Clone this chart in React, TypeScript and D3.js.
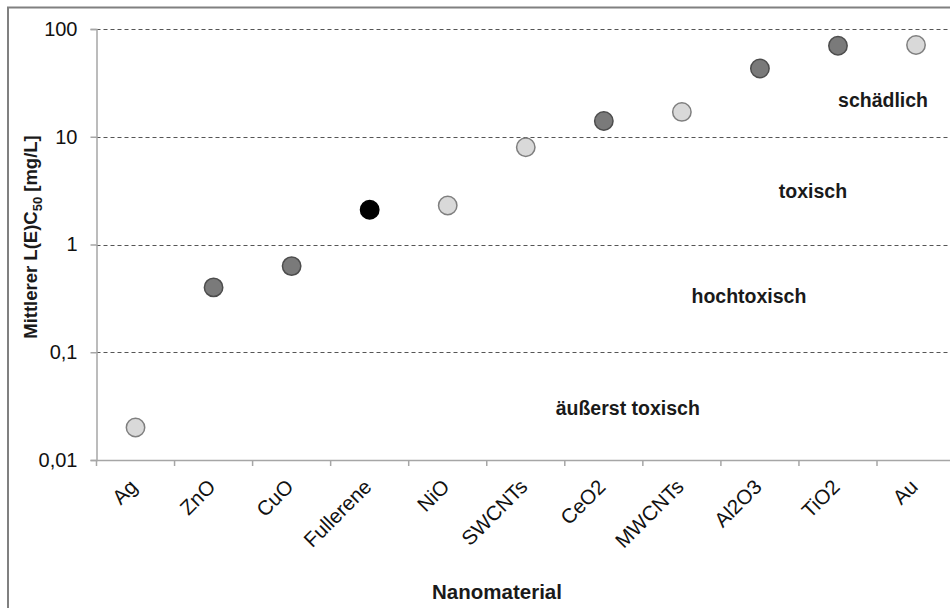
import React, { useEffect, useRef } from "react";
import * as d3 from "d3";

const categories = ["Ag", "ZnO", "CuO", "Fullerene", "NiO", "SWCNTs", "CeO2", "MWCNTs", "Al2O3", "TiO2", "Au"];
const values = [0.02, 0.4, 0.63, 2.1, 2.3, 8, 14, 17, 43, 70, 71];
const shade = ["light", "dark", "dark", "black", "light", "light", "dark", "light", "dark", "dark", "light"];
const yTicks = [0.01, 0.1, 1, 10, 100];
const yTickLabels = ["0,01", "0,1", "1", "10", "100"];
const zoneLabels = ["schädlich", "toxisch", "hochtoxisch", "äußerst toxisch"];
const zoneValues = [22, 3.1, 0.33, 0.03];
const zoneCats = ["Au", "TiO2", "Al2O3", "SWCNTs"];
const zoneOffsets = [-33, -25, -11, 102];

const fills: Record<string, string> = { light: "#d9d9d9", dark: "#7a7a7a", black: "#000000" };
const strokes: Record<string, string> = { light: "#7f7f7f", dark: "#4d4d4d", black: "#000000" };

const W = 950;
const H = 608;
const left = 96.5;
const top = 29;
const bottom = 460;
const bandW = 78.05;

const App = () => {
  const ref = useRef<SVGSVGElement>(null);

  useEffect(() => {
    const svg = d3.select(ref.current);
    svg.selectAll("*").remove();
    const font = "'Liberation Sans', Arial, sans-serif";

    const x = d3.scaleBand().domain(categories).range([left, left + bandW * categories.length]);
    const y = d3.scaleLog().domain([0.01, 100]).range([bottom, top]);

    // frame
    svg.append("rect")
      .attr("x", 8).attr("y", 7.5).attr("width", 960).attr("height", 620)
      .attr("fill", "white").attr("stroke", "#808080").attr("stroke-width", 2);

    // grid
    svg.append("g")
      .selectAll("line")
      .data(yTicks.slice(1))
      .join("line")
      .attr("x1", left).attr("x2", W)
      .attr("y1", (d) => Math.round(y(d)) + 0.5).attr("y2", (d) => Math.round(y(d)) + 0.5)
      .attr("stroke", "#555").attr("stroke-width", 1).attr("stroke-dasharray", "4,3");

    // y axis
    const yAxis = d3.axisLeft(y).tickValues(yTicks).tickSize(6).tickPadding(13)
      .tickFormat((d, i) => yTickLabels[i]);
    const gy = svg.append("g").attr("transform", `translate(${left},0)`).call(yAxis);
    gy.select(".domain").attr("stroke", "#a6a6a6").attr("stroke-width", 1.5);
    gy.selectAll(".tick line").attr("stroke", "#a6a6a6").attr("stroke-width", 1.5);
    gy.selectAll(".tick text").attr("font-family", font).attr("font-size", 20).attr("fill", "#111");

    // x axis
    const xAxis = d3.axisBottom(x).tickSize(0).tickFormat(() => "");
    const gx = svg.append("g").attr("transform", `translate(0,${bottom})`).call(xAxis);
    gx.select(".domain").attr("stroke", "#a6a6a6").attr("stroke-width", 1.5);
    gx.selectAll(".tick").remove();
    svg.append("g")
      .selectAll("line")
      .data(categories)
      .join("line")
      .attr("x1", (d) => x(d)!).attr("x2", (d) => x(d)!)
      .attr("y1", bottom).attr("y2", bottom + 6)
      .attr("stroke", "#a6a6a6").attr("stroke-width", 1.5);

    svg.append("g")
      .selectAll("text")
      .data(categories)
      .join("text")
      .attr("transform", (d) => `translate(${x(d)! + x.bandwidth() / 2 - 2},${bottom + 23}) rotate(-45)`)
      .attr("text-anchor", "end")
      .attr("dy", "0.35em")
      .attr("font-family", font).attr("font-size", 20.5).attr("fill", "#111")
      .text((d) => d);

    // points
    svg.append("g")
      .selectAll("circle")
      .data(values)
      .join("circle")
      .attr("cx", (d, i) => x(categories[i])! + x.bandwidth() / 2)
      .attr("cy", (d) => y(d))
      .attr("r", 9.2)
      .attr("fill", (d, i) => fills[shade[i]])
      .attr("stroke", (d, i) => strokes[shade[i]])
      .attr("stroke-width", 1.5);

    // zone labels
    svg.append("g")
      .selectAll("text")
      .data(zoneLabels)
      .join("text")
      .attr("x", (d, i) => x(zoneCats[i])! + x.bandwidth() / 2 + zoneOffsets[i])
      .attr("y", (d, i) => y(zoneValues[i]))
      .attr("text-anchor", "middle")
      .attr("dy", "0.35em")
      .attr("font-family", font).attr("font-size", 19.5).attr("font-weight", "bold").attr("fill", "#1a1a1a")
      .text((d) => d);

    // axis titles
    const yt = svg.append("text")
      .attr("transform", `translate(37,237) rotate(-90)`)
      .attr("text-anchor", "middle")
      .attr("font-family", font).attr("font-size", 18.5).attr("font-weight", "bold").attr("fill", "#1a1a1a");
    yt.append("tspan").text("Mittlerer L(E)C");
    yt.append("tspan").attr("font-size", 13).attr("dy", 5).text("50");
    yt.append("tspan").attr("dy", -5).text(" [mg/L]");

    svg.append("text")
      .attr("x", 497).attr("y", 599)
      .attr("text-anchor", "middle")
      .attr("font-family", font).attr("font-size", 20.5).attr("font-weight", "bold").attr("fill", "#1a1a1a")
      .text("Nanomaterial");
  }, []);

  return (
    <svg ref={ref} width={W} height={H} style={{ position: "absolute", left: 0, top: 0 }} />
  );
};

export default App;
